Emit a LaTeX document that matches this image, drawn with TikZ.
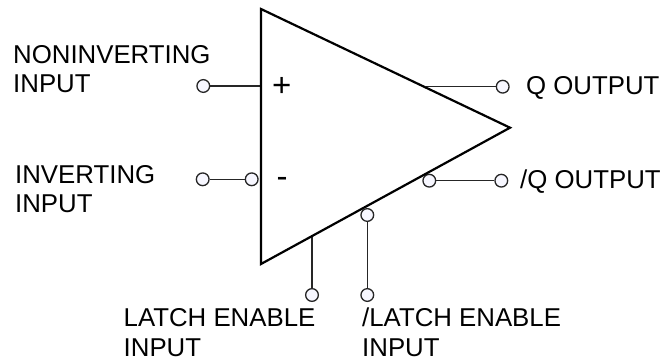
\documentclass[tikz,border=0pt]{standalone}
\usepackage{fontspec}
\setmainfont{Liberation Sans}
\usepackage{tikz}
\tikzset{pin/.style={circle,draw=black!85,line width=1.3pt,fill=blue!3,inner sep=0pt,minimum size=12.7pt},
lead/.style={draw=black!85,line width=1.4pt},
lab/.style={align=left,inner sep=0pt,anchor=base west,font=\fontsize{25.8}{29.5}\selectfont},
sgn/.style={inner sep=0pt,anchor=base west,font=\fontsize{33}{33}\selectfont}}
\begin{document}
\begin{tikzpicture}[x=1pt,y=-1pt]
\useasboundingbox[fill=white] (0,0) rectangle (672,358);
\coordinate (T1) at (261,9);
\coordinate (T2) at (510,127.7);
\coordinate (T3) at (261,264);
\coordinate (A1) at (261,86);
\coordinate (A2) at (426,86.7);
\coordinate (A3) at (312,236);
\node[pin] (P1) at (203.3,86) {};
\node[pin] (P2) at (202.7,179.3) {};
\node[pin] (P3) at (251.7,179.3) {};
\node[pin] (P4) at (502.7,86.7) {};
\node[pin] (P5) at (429.3,180.7) {};
\node[pin] (P6) at (501.3,180.7) {};
\node[pin] (P7) at (312,295) {};
\node[pin] (P8) at (367.3,215) {};
\node[pin] (P9) at (367.3,295) {};

\draw[lead] (P1)--(A1);
\draw[lead] (P2)--(P3);
\draw[lead] (A2)--(P4);
\draw[lead] (P5)--(P6);
\draw[lead] (A3)--(P7);
\draw[lead] (P8)--(P9);
\draw[line width=2.2pt,line join=miter] (T1)--(T2)--(T3)--cycle;

\node[lab] (L1) at (13,92.7) {NONINVERTING\\INPUT};
\node[lab] (L2) at (15,213) {INVERTING\\INPUT};
\node[lab] (L3) at (123.5,356) {LATCH ENABLE\\INPUT};
\node[lab] (L4) at (362,356) {/LATCH ENABLE\\INPUT};
\node[lab] (L5) at (526,95) {Q OUTPUT};
\node[lab] (L6) at (520,189) {/Q OUTPUT};
\node[sgn] (S1) at (272,97) {+};
\node[sgn] (S2) at (276.5,188) {-};
\end{tikzpicture}
\end{document}
